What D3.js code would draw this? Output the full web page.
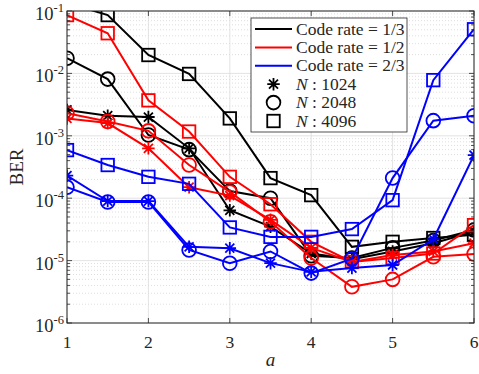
<!DOCTYPE html>
<head>
  <meta charset="utf-8">
  <script src="https://d3js.org/d3.v7.min.js"></script>
  <style>
    body { margin:0; background:#fff; }
  </style>
</head>
<body>
  <div class="chart"></div>
  <script>
    // a values on the x axis
    const aValues = [1, 1.5, 2, 2.5, 3, 3.5, 4, 4.5, 5, 5.5, 6];

    // BER, code rate 1/3
    const r13_n1024 = [2.6e-3, 2.1e-3, 2.0e-3, 6.3e-4, 6.4e-5, 3.5e-5, 1.3e-5, 1.05e-5, 1.4e-5, 1.9e-5, 2.9e-5];
    const r13_n2048 = [1.75e-2, 8.1e-3, 1.03e-3, 6.0e-4, 1.3e-4, 1.0e-4, 1.2e-5, 1.1e-5, 1.6e-5, 2.1e-5, 3.1e-5];
    const r13_n4096 = [1.35e-1, 8.6e-2, 1.97e-2, 9.8e-3, 1.9e-3, 2.1e-4, 1.12e-4, 1.66e-5, 2.0e-5, 2.3e-5, 2.6e-5];
    // BER, code rate 1/2
    const r12_n1024 = [1.9e-3, 1.6e-3, 6.3e-4, 1.5e-4, 1.1e-4, 4.5e-5, 1.6e-5, 9.5e-6, 1.23e-5, 1.4e-5, 1.9e-5];
    const r12_n2048 = [2.3e-3, 1.7e-3, 1.2e-3, 3.4e-4, 1.26e-4, 4.2e-5, 1.1e-5, 3.8e-6, 5.0e-6, 1.15e-5, 1.28e-5];
    const r12_n4096 = [8.6e-2, 4.4e-2, 3.7e-3, 1.17e-3, 2.2e-4, 8.0e-5, 2.0e-5, 9.5e-6, 1.1e-5, 1.3e-5, 3.7e-5];
    // BER, code rate 2/3
    const r23_n1024 = [2.3e-4, 9.0e-5, 9.0e-5, 1.66e-5, 1.58e-5, 9.1e-6, 6.6e-6, 7.6e-6, 8.5e-6, 2.2e-5, 4.9e-4];
    const r23_n2048 = [1.5e-4, 8.7e-5, 8.7e-5, 1.48e-5, 9.1e-6, 1.4e-5, 6.3e-6, 1.07e-5, 2.1e-4, 1.75e-3, 2.1e-3];
    const r23_n4096 = [5.9e-4, 3.4e-4, 2.2e-4, 1.7e-4, 3.4e-5, 2.4e-5, 2.4e-5, 3.2e-5, 9.3e-5, 7.8e-3, 5.1e-2];

    const xTicks = [1, 2, 3, 4, 5, 6];
    const yTicks = [1e-6, 1e-5, 1e-4, 1e-3, 1e-2, 1e-1];
    const legendLabels = ['Code rate = 1/3', 'Code rate = 1/2', 'Code rate = 2/3'];
    const legendN = ['1024', '2048', '4096'];

    const series = [
      { color: '#000000', marker: 'star', values: r13_n1024 },
      { color: '#000000', marker: 'circle', values: r13_n2048 },
      { color: '#000000', marker: 'square', values: r13_n4096 },
      { color: '#ff0000', marker: 'star', values: r12_n1024 },
      { color: '#ff0000', marker: 'circle', values: r12_n2048 },
      { color: '#ff0000', marker: 'square', values: r12_n4096 },
      { color: '#0000ff', marker: 'star', values: r23_n1024 },
      { color: '#0000ff', marker: 'circle', values: r23_n2048 },
      { color: '#0000ff', marker: 'square', values: r23_n4096 }
    ];

    const W = 479, H = 374;
    const plot = { left: 67, right: 474, top: 11, bottom: 323 };
    const serif = 'Liberation Serif';
    const axisColor = '#262626';

    const svg = d3.select('.chart').append('svg')
      .attr('width', W).attr('height', H);

    function label(g, xPos, yPos, size) {
      return g.append('text').attr('x', xPos).attr('y', yPos)
        .attr('font-family', serif).attr('font-size', size)
        .style('font-family', serif).style('font-size', size + 'px').style('fill', axisColor);
    }

    const x = d3.scaleLinear().domain([1, 6]).range([plot.left, plot.right]);
    const y = d3.scaleLog().domain([1e-6, 1e-1]).range([plot.bottom, plot.top]);

    // grid
    const minorY = [];
    for (let e = -6; e < -1; e++) for (let m = 2; m < 10; m++) minorY.push(m * Math.pow(10, e));
    const grid = svg.append('g');
    grid.selectAll('.gmin').data(minorY).enter().append('line')
      .attr('x1', plot.left).attr('x2', plot.right)
      .attr('y1', d => y(d)).attr('y2', d => y(d))
      .style('stroke', '#c8c8c8').style('stroke-width', 0.6).style('stroke-dasharray', '1,2');
    grid.selectAll('.gmaj').data(yTicks).enter().append('line')
      .attr('x1', plot.left).attr('x2', plot.right)
      .attr('y1', d => y(d)).attr('y2', d => y(d))
      .style('stroke', '#dcdcdc').style('stroke-width', 0.8);
    grid.selectAll('.gx').data(xTicks).enter().append('line')
      .attr('y1', plot.top).attr('y2', plot.bottom)
      .attr('x1', d => x(d)).attr('x2', d => x(d))
      .style('stroke', '#dcdcdc').style('stroke-width', 0.8);

    svg.append('clipPath').attr('id', 'clip').append('rect')
      .attr('x', plot.left).attr('y', plot.top)
      .attr('width', plot.right - plot.left).attr('height', plot.bottom - plot.top);

    const line = d3.line().x((d, i) => x(aValues[i])).y(d => y(d));

    function drawMarker(g, type, cx, cy, color, s) {
      if (type === 'circle') {
        g.append('circle').attr('cx', cx).attr('cy', cy).attr('r', s * 0.55)
          .style('fill', 'none').style('stroke', color).style('stroke-width', 1.8);
      } else if (type === 'square') {
        g.append('rect').attr('x', cx - s / 2).attr('y', cy - s / 2)
          .attr('width', s).attr('height', s)
          .style('fill', 'none').style('stroke', color).style('stroke-width', 1.8);
      } else {
        const r = s * 0.5, q = r * 0.72;
        const p = `M${cx - r},${cy}L${cx + r},${cy}M${cx},${cy - r}L${cx},${cy + r}` +
          `M${cx - q},${cy - q}L${cx + q},${cy + q}M${cx - q},${cy + q}L${cx + q},${cy - q}`;
        g.append('path').attr('d', p).style('stroke', color).style('stroke-width', 1.8);
      }
    }

    const marks = svg.append('g').attr('clip-path', 'url(#clip)');
    series.forEach(s => {
      marks.append('path').datum(s.values).attr('d', line)
        .style('fill', 'none').style('stroke', s.color).style('stroke-width', 2);
      s.values.forEach((v, i) => {
        drawMarker(marks, s.marker, x(aValues[i]), y(v), s.color, 12.5);
      });
    });

    // axes box and ticks
    svg.append('rect').attr('x', plot.left).attr('y', plot.top)
      .attr('width', plot.right - plot.left).attr('height', plot.bottom - plot.top)
      .style('fill', 'none').style('stroke', axisColor).style('stroke-width', 1);

    const ticks = svg.append('g').style('stroke', axisColor).style('stroke-width', 0.8);
    yTicks.forEach(t => {
      ticks.append('line').attr('x1', plot.left).attr('x2', plot.left + 5).attr('y1', y(t)).attr('y2', y(t));
      ticks.append('line').attr('x1', plot.right).attr('x2', plot.right - 5).attr('y1', y(t)).attr('y2', y(t));
    });
    minorY.forEach(t => {
      ticks.append('line').attr('x1', plot.left).attr('x2', plot.left + 3).attr('y1', y(t)).attr('y2', y(t));
      ticks.append('line').attr('x1', plot.right).attr('x2', plot.right - 3).attr('y1', y(t)).attr('y2', y(t));
    });
    xTicks.forEach(t => {
      ticks.append('line').attr('y1', plot.bottom).attr('y2', plot.bottom - 5).attr('x1', x(t)).attr('x2', x(t));
      ticks.append('line').attr('y1', plot.top).attr('y2', plot.top + 5).attr('x1', x(t)).attr('x2', x(t));
    });

    // tick labels
    xTicks.forEach(t => {
      label(svg, x(t), plot.bottom + 25, 17.5).attr('text-anchor', 'middle').text(t);
    });

    yTicks.forEach(t => {
      const txt = label(svg, plot.left - 3, y(t) + 9, 18.5).attr('text-anchor', 'end');
      txt.append('tspan').text('10');
      txt.append('tspan').attr('dy', -8).attr('font-size', 12.5).style('font-size', '12.5px')
        .text(Math.round(Math.log10(t)));
    });

    label(svg, 0, 0, 19).attr('transform', `translate(23,${(plot.top + plot.bottom) / 2}) rotate(-90)`)
      .attr('text-anchor', 'middle').text('BER');
    label(svg, (plot.left + plot.right) / 2, plot.bottom + 43, 19)
      .attr('text-anchor', 'middle').style('font-style', 'italic').text('a');

    // legend
    const lg = svg.append('g');
    lg.append('rect').attr('x', 251).attr('y', 18).attr('width', 156).attr('height', 114)
      .style('fill', '#fff').style('stroke', axisColor).style('stroke-width', 0.8);
    const rowY = i => 29 + i * 18.4;
    ['#000000', '#ff0000', '#0000ff'].forEach((c, i) => {
      lg.append('line').attr('x1', 255).attr('x2', 292).attr('y1', rowY(i)).attr('y2', rowY(i))
        .style('stroke', c).style('stroke-width', 2);
      label(lg, 296, rowY(i) + 5.5, 17.5).text(legendLabels[i]);
    });
    ['star', 'circle', 'square'].forEach((m, i) => {
      drawMarker(lg, m, 273.5, rowY(i + 3), '#000000', 12.5);
      const t = label(lg, 296, rowY(i + 3) + 5.5, 17.5);
      t.append('tspan').style('font-style', 'italic').text('N');
      t.append('tspan').text(' : ' + legendN[i]);
    });
  </script>
</body>
</html>
